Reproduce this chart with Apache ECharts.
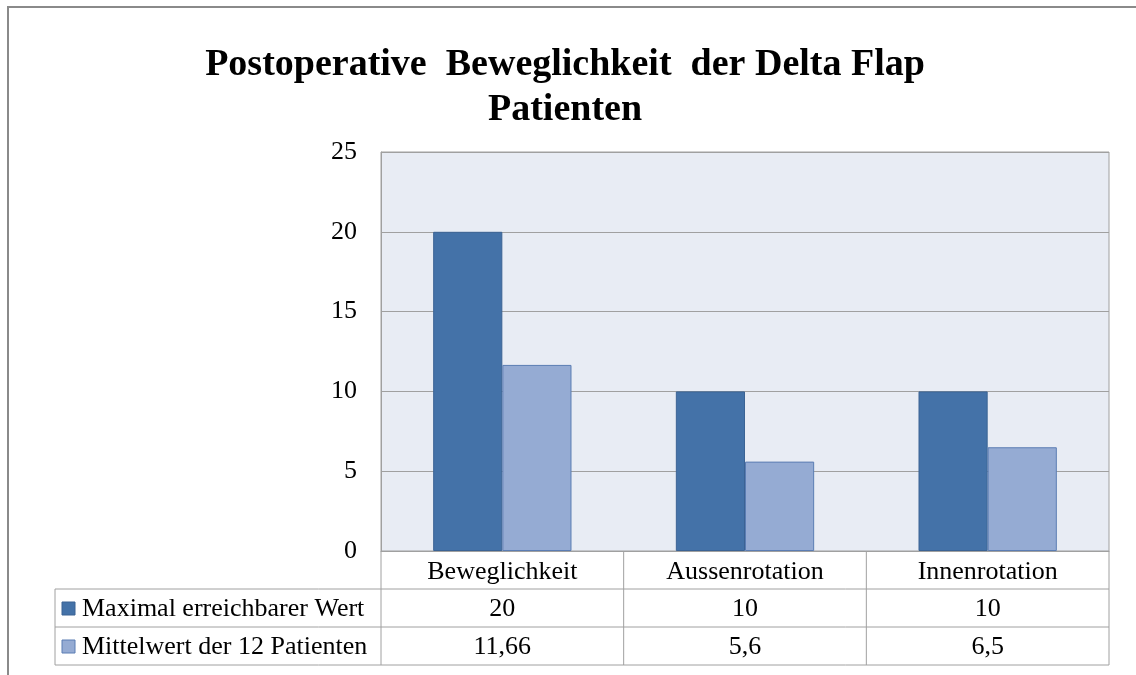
<!DOCTYPE html>
<html>
<head>
<meta charset="utf-8">
<script src="https://cdn.jsdelivr.net/npm/echarts@6/dist/echarts.min.js"></script>
<style>
  html, body { margin: 0; padding: 0; background: #fff; }
  #chart { width: 1136px; height: 675px; }
</style>
</head>
<body>
<div id="chart"></div>
<script>
// Daten
const categories = ['Beweglichkeit', 'Aussenrotation', 'Innenrotation']
const seriesNames = ['Maximal erreichbarer Wert', 'Mittelwert der 12 Patienten']
const maxWerte = [20, 10, 10]
const mittelWerte = [11.66, 5.6, 6.5]
const tableLabels = [['20', '10', '10'], ['11,66', '5,6', '6,5']]

const colors = ['#4472a8', '#95abd3']
const borders = ['#3b6394', '#5b7db3']
const serif = '"Liberation Serif", "Times New Roman", serif'
const fs = 26

const chart = echarts.init(document.getElementById('chart'))

// Raster
const grid = { left: 381, top: 152, width: 728, height: 399 }
const rowH = 38
const tableLeft = 55

const option = {
  animation: false,
  title: {
    text: 'Postoperative  Beweglichkeit  der Delta Flap\nPatienten',
    left: 560,
    top: 38,
    textAlign: 'center',
    textStyle: {
      fontFamily: serif,
      fontWeight: 'bold',
      fontSize: 38,
      lineHeight: 45,
      color: '#000'
    }
  },
  grid: { ...grid, show: true, backgroundColor: '#e8ecf4', borderColor: '#a0a0a0', borderWidth: 1 },
  xAxis: {
    type: 'category',
    data: categories,
    axisLine: { lineStyle: { color: '#a0a0a0' } },
    axisTick: { show: false },
    axisLabel: { fontFamily: serif, fontSize: fs, color: '#000', margin: 8 }
  },
  yAxis: {
    type: 'value',
    min: 0,
    max: 25,
    interval: 5,
    axisLine: { show: true, lineStyle: { color: '#a0a0a0' } },
    axisTick: { show: false },
    axisLabel: { fontFamily: serif, fontSize: fs, color: '#000', margin: 24 },
    splitLine: { lineStyle: { color: '#a0a0a0' } }
  },
  series: [
    {
      name: seriesNames[0],
      type: 'bar',
      data: maxWerte,
      barGap: '0%',
      barCategoryGap: '43%',
      itemStyle: { color: colors[0], borderColor: borders[0], borderWidth: 1 }
    },
    {
      name: seriesNames[1],
      type: 'bar',
      data: mittelWerte,
      itemStyle: { color: colors[1], borderColor: borders[1], borderWidth: 1 }
    }
  ]
}

chart.setOption(option)

// Datentabelle unter der Achse
const bottom = grid.top + grid.height
const right = grid.left + grid.width
const lineStyle = { stroke: '#a0a0a0', lineWidth: 1 }
const elements = []

// Diagrammrahmen
elements.push({ type: 'rect', shape: { x: 8, y: 7, width: 1140, height: 680 }, style: { fill: null, stroke: '#8a8a8a', lineWidth: 2 }, silent: true })

// horizontale Linien
for (let r = 1; r <= 3; r++) {
  const y = bottom + r * rowH
  elements.push({ type: 'line', shape: { x1: tableLeft, y1: y, x2: right, y2: y }, style: lineStyle })
}

// vertikale Linien
elements.push({ type: 'line', shape: { x1: tableLeft, y1: bottom + rowH, x2: tableLeft, y2: bottom + 3 * rowH }, style: lineStyle })
const catW = grid.width / categories.length
for (let i = 0; i <= categories.length; i++) {
  const x = grid.left + i * catW
  elements.push({ type: 'line', shape: { x1: x, y1: bottom, x2: x, y2: bottom + 3 * rowH }, style: lineStyle })
}

// Legendenzeilen und Werte
seriesNames.forEach((name, s) => {
  const yc = bottom + (s + 1.5) * rowH
  elements.push({ type: 'rect', shape: { x: 62, y: yc - 6, width: 13, height: 13 }, style: { fill: colors[s], stroke: borders[s], lineWidth: 1 } })
  elements.push({ type: 'text', x: 82, y: yc + 1, style: { text: name, font: fs + 'px ' + serif, fill: '#000', align: 'left', verticalAlign: 'middle' } })
  categories.forEach((c, i) => {
    const x = chart.convertToPixel({ xAxisIndex: 0 }, i)
    elements.push({ type: 'text', x: x, y: yc + 1, style: { text: tableLabels[s][i], font: fs + 'px ' + serif, fill: '#000', align: 'center', verticalAlign: 'middle' } })
  })
})

chart.setOption({ graphic: { elements } })

window.addEventListener('resize', () => chart.resize())
</script>
</body>
</html>
